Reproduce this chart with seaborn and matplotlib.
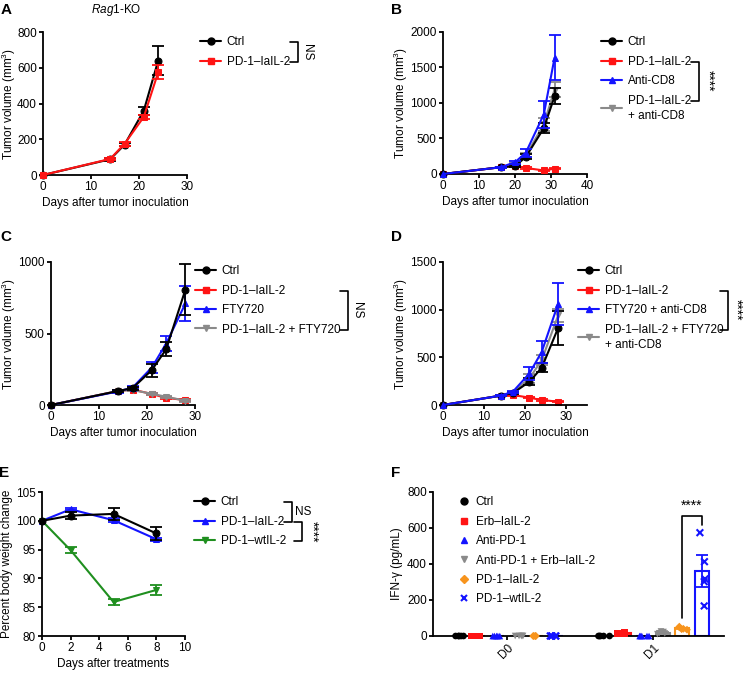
import numpy as np
import pandas as pd
import matplotlib
matplotlib.use("Agg")
import matplotlib.pyplot as plt
import seaborn as sns
from matplotlib.lines import Line2D
from matplotlib.transforms import IdentityTransform

# ---------------- data ----------------
# Panel A (Rag1-KO)
a_days = [0, 14, 17, 21, 24]
a_ctrl = [0, 88, 170, 360, 640]
a_ctrl_err = [0, 8, 10, 22, 80]
a_pd1 = [0, 90, 175, 325, 575]
a_pd1_err = [0, 6, 10, 12, 40]

# Panel B
b_days = [0, 16, 20, 23, 28, 31]
b_ctrl = [0, 95, 110, 240, 645, 1095]
b_ctrl_err = [0, 10, 15, 35, 70, 110]
b_pd1 = [0, 95, 115, 85, 50, 75]
b_pd1_err = [0, 8, 10, 8, 8, 10]
b_cd8 = [0, 95, 165, 300, 840, 1640]
b_cd8_err = [0, 10, 20, 55, 190, 320]
b_combo = [0, 95, 130, 260, 700, 1190]
b_combo_err = [0, 10, 20, 40, 90, 110]

# Panel C
c_days = [0, 14, 17, 21, 24, 28]
c_ctrl = [0, 98, 118, 244, 390, 807]
c_ctrl_err = [0, 8, 10, 45, 50, 180]
c_pd1 = [0, 98, 108, 77, 49, 35]
c_pd1_err = [0, 8, 8, 8, 8, 8]
c_fty = [0, 95, 122, 262, 430, 710]
c_fty_err = [0, 8, 10, 40, 50, 125]
c_combo = [0, 98, 105, 78, 58, 30]
c_combo_err = [0, 6, 6, 8, 8, 6]

# Panel D
d_days = [0, 14, 17, 21, 24, 28]
d_ctrl = [0, 98, 125, 244, 391, 810]
d_ctrl_err = [0, 8, 12, 35, 45, 180]
d_pd1 = [0, 98, 105, 77, 52, 35]
d_pd1_err = [0, 8, 8, 6, 6, 5]
d_fty = [0, 98, 140, 331, 558, 1064]
d_fty_err = [0, 8, 12, 70, 115, 220]
d_combo = [0, 98, 130, 279, 471, 942]
d_combo_err = [0, 8, 10, 45, 55, 70]

# Panel E
e_days = [0, 2, 5, 8]
e_ctrl = [100, 100.9, 101.2, 97.8]
e_ctrl_err = [0, 0.6, 1.0, 1.2]
e_pd1 = [100, 102.0, 100.1, 96.8]
e_pd1_err = [0, 0.2, 0.3, 0.3]
e_wt = [100, 94.9, 85.9, 88.0]
e_wt_err = [0, 0.5, 0.5, 0.8]

# Panel F
f_groups = ["Ctrl", "Erb–IaIL-2", "Anti-PD-1", "Anti-PD-1 + Erb–IaIL-2",
            "PD-1–IaIL-2", "PD-1–wtIL-2"]
f_days = ["D0", "D1"]
f_bar_d0 = [0, 0, 0, 0, 0, 0]
f_bar_d1 = [0, 15, 0, 18, 42, 362]
f_sem_d1 = [0, 2, 0, 5, 4, 88]
f_pts_d0 = {
    "Ctrl": [0, 0, 0, 0, 0],
    "Erb–IaIL-2": [0, 0, 0, 0, 0],
    "Anti-PD-1": [0, 0, 0, 0, 0],
    "Anti-PD-1 + Erb–IaIL-2": [0, 0, 0, 0, 0],
    "PD-1–IaIL-2": [0, 0, 0, 0, 0],
    "PD-1–wtIL-2": [0, 0, 0, 0, 0],
}
f_pts_d1 = {
    "Ctrl": [0, 0, 0, 0, 0],
    "Erb–IaIL-2": [12, 15, 18, 14, 16],
    "Anti-PD-1": [0, 0, 0, 0, 0],
    "Anti-PD-1 + Erb–IaIL-2": [10, 14, 22, 25, 15],
    "PD-1–IaIL-2": [35, 40, 48, 52, 38],
    "PD-1–wtIL-2": [574, 413, 317, 302, 167],
}

# ---------------- style ----------------
sns.set_theme(style="ticks")
plt.rcParams["font.family"] = ["Liberation Sans", "DejaVu Sans"]
plt.rcParams.update({
    "mathtext.fontset": "custom",
    "mathtext.rm": "Liberation Sans",
    "mathtext.it": "Liberation Sans:italic",
    "axes.linewidth": 1.3,
    "xtick.major.width": 1.3, "ytick.major.width": 1.3,
    "xtick.major.size": 3, "ytick.major.size": 3,
    "xtick.labelsize": 8.5, "ytick.labelsize": 8.5, "axes.labelsize": 8.5,
    "xtick.color": "black", "ytick.color": "black",
    "axes.edgecolor": "black", "text.color": "black", "axes.labelcolor": "black",
    "xtick.major.pad": 1.5, "ytick.major.pad": 1.5,
})

BLACK = "#000000"
RED = "#ff1414"
BLUE = "#1414ff"
GREY = "#8a8a8a"
GREEN = "#1f8f1f"
ORANGE = "#f7941d"

W, H = 748, 674
fig = plt.figure(figsize=(W / 100, H / 100), dpi=100)


def add_ax(l, t, r, b, ylab_x):
    ax = fig.add_axes([l / W, 1 - b / H, (r - l) / W, (b - t) / H])
    sns.despine(ax=ax)
    ax._ylab_pos = (ylab_x / W, 1 - ((t + b) / 2) / H)
    return ax


def place_ylabel(ax, text):
    ax.set_ylabel(text, va="center")
    ax.yaxis.set_label_coords(ax._ylab_pos[0], ax._ylab_pos[1], transform=fig.transFigure)


def series(ax, x, y, e, color, marker, label, ms=5, z=2):
    sns.lineplot(x=x, y=y, color=color, marker=marker, markersize=ms,
                 markeredgecolor=color, markerfacecolor=color, linewidth=1.5,
                 ax=ax, label=label, zorder=z, clip_on=False)
    xe = [xi for xi, ei in zip(x, e) if ei > 0]
    ye = [yi for yi, ei in zip(y, e) if ei > 0]
    ee = [ei for ei in e if ei > 0]
    ax.errorbar(xe, ye, yerr=ee, fmt="none", ecolor=color, elinewidth=1.3,
                capsize=4.5, capthick=1.3, zorder=z, clip_on=False)


def handle(color, marker, ms=5, line=True):
    return Line2D([], [], color=color, marker=marker, markersize=ms,
                  markeredgecolor=color, markerfacecolor=color,
                  lw=1.5 if line else 0, ls="-" if line else "none",
                  markeredgewidth=1.5 if marker == "x" else 1)


def legend(ax, handles, labels, x_px, y_center_px, **kw):
    opts = dict(loc="upper left", bbox_to_anchor=(x_px / W, 1 - (y_center_px - 6.8) / H),
                bbox_transform=fig.transFigure, frameon=False, borderpad=0,
                borderaxespad=0, handlelength=1.8, handletextpad=0.45,
                labelspacing=0.63, fontsize=8.5)
    opts.update(kw)
    leg = ax.legend(handles, labels, **opts)
    for t in leg.get_texts():
        t.set_linespacing(1.35)
    return leg


ylab = "Tumor volume (mm$^3$)"
xlab = "Days after tumor inoculation"

# ---------------- Panel A ----------------
axA = add_ax(43, 32, 187, 175, 9)
series(axA, a_days, a_ctrl, a_ctrl_err, BLACK, "o", "Ctrl", z=2)
series(axA, a_days, a_pd1, a_pd1_err, RED, "s", "PD-1–IaIL-2", z=3)
axA.set_xlim(0, 30); axA.set_ylim(0, 800)
axA.set_xticks([0, 10, 20, 30]); axA.set_yticks([0, 200, 400, 600, 800])
axA.set_xlabel(xlab, labelpad=3); place_ylabel(axA, ylab)
legA = legend(axA, [handle(BLACK, "o"), handle(RED, "s")], ["Ctrl", "PD-1–IaIL-2"], 200, 43)

# ---------------- Panel B ----------------
axB = add_ax(443, 32, 587, 174, 401)
series(axB, b_days, b_combo, b_combo_err, GREY, "v", "combo", z=2)
series(axB, b_days, b_pd1, b_pd1_err, RED, "s", "pd1", z=3)
series(axB, b_days, b_ctrl, b_ctrl_err, BLACK, "o", "ctrl", z=4)
series(axB, b_days, b_cd8, b_cd8_err, BLUE, "^", "cd8", z=5)
axB.set_xlim(0, 40); axB.set_ylim(0, 2000)
axB.set_xticks([0, 10, 20, 30, 40]); axB.set_yticks([0, 500, 1000, 1500, 2000])
axB.set_xlabel(xlab, labelpad=3); place_ylabel(axB, ylab)
legB = legend(axB, [handle(BLACK, "o"), handle(RED, "s"), handle(BLUE, "^"), handle(GREY, "v")],
              ["Ctrl", "PD-1–IaIL-2", "Anti-CD8", "PD-1–IaIL-2\n+ anti-CD8"], 601, 43)

# ---------------- Panel C ----------------
axC = add_ax(51, 262, 195, 405, 9)
series(axC, c_days, c_pd1, c_pd1_err, RED, "s", "pd1", z=2)
series(axC, c_days, c_combo, c_combo_err, GREY, "v", "combo", z=3)
series(axC, c_days, c_fty, c_fty_err, BLUE, "^", "fty", z=4)
series(axC, c_days, c_ctrl, c_ctrl_err, BLACK, "o", "ctrl", z=5)
axC.set_xlim(0, 30); axC.set_ylim(0, 1000)
axC.set_xticks([0, 10, 20, 30]); axC.set_yticks([0, 500, 1000])
axC.set_xlabel(xlab, labelpad=3); place_ylabel(axC, ylab)
legC = legend(axC, [handle(BLACK, "o"), handle(RED, "s"), handle(BLUE, "^"), handle(GREY, "v")],
              ["Ctrl", "PD-1–IaIL-2", "FTY720", "PD-1–IaIL-2 + FTY720"], 195, 272)

# ---------------- Panel D ----------------
axD = add_ax(443, 262, 587, 405, 401)
series(axD, d_days, d_pd1, d_pd1_err, RED, "s", "pd1", z=2)
series(axD, d_days, d_combo, d_combo_err, GREY, "v", "combo", z=3)
series(axD, d_days, d_ctrl, d_ctrl_err, BLACK, "o", "ctrl", z=4)
series(axD, d_days, d_fty, d_fty_err, BLUE, "^", "fty", z=5)
axD.set_xlim(0, 35); axD.set_ylim(0, 1500)
axD.set_xticks([0, 10, 20, 30]); axD.set_yticks([0, 500, 1000, 1500])
axD.set_xlabel(xlab, labelpad=3); place_ylabel(axD, ylab)
legD = legend(axD, [handle(BLACK, "o"), handle(RED, "s"), handle(BLUE, "^"), handle(GREY, "v")],
              ["Ctrl", "PD-1–IaIL-2", "FTY720 + anti-CD8", "PD-1–IaIL-2 + FTY720\n+ anti-CD8"],
              578, 272)

# ---------------- Panel E ----------------
axE = add_ax(42, 492, 185, 636, 7)
series(axE, e_days, e_ctrl, e_ctrl_err, BLACK, "o", "ctrl", z=3)
series(axE, e_days, e_pd1, e_pd1_err, BLUE, "^", "pd1", z=2)
series(axE, e_days, e_wt, e_wt_err, GREEN, "v", "wt", z=2)
axE.set_xlim(0, 10); axE.set_ylim(80, 105)
axE.set_xticks([0, 2, 4, 6, 8, 10]); axE.set_yticks([80, 85, 90, 95, 100, 105])
axE.set_xlabel("Days after treatments", labelpad=3)
place_ylabel(axE, "Percent body weight change")
legE = legend(axE, [handle(BLACK, "o"), handle(BLUE, "^"), handle(GREEN, "v")],
              ["Ctrl", "PD-1–IaIL-2", "PD-1–wtIL-2"], 194, 503)

# ---------------- Panel F ----------------
axF = add_ax(433, 492, 724, 636, 397)
f_colors = [BLACK, RED, BLUE, GREY, ORANGE, BLUE]
f_markers = ["o", "s", "^", "v", "D", "x"]
pal = dict(zip(f_groups, f_colors))
bars = pd.DataFrame({
    "day": ["D0"] * 6 + ["D1"] * 6,
    "group": f_groups * 2,
    "value": f_bar_d0 + f_bar_d1,
})
sns.barplot(data=bars, x="day", y="value", hue="group", order=f_days, hue_order=f_groups,
            palette=pal, fill=False, width=0.8, gap=0.3, linewidth=1.5, errorbar=None,
            legend=False, ax=axF)
slot = 0.8 / len(f_groups)
for hi, (m, s) in enumerate(zip(f_bar_d1, f_sem_d1)):
    if s > 0:
        xc = 1 + (hi - (len(f_groups) - 1) / 2) * slot
        axF.errorbar([xc], [m], yerr=[s], fmt="none", ecolor=f_colors[hi],
                     elinewidth=1.3, capsize=4.5, capthick=1.3, zorder=4)
np.random.seed(3)
rows = []
for day, d in zip(f_days, [f_pts_d0, f_pts_d1]):
    for g in f_groups:
        for v in d[g]:
            rows.append((day, g, v))
pts = pd.DataFrame(rows, columns=["day", "group", "value"])
for g, c, mk in zip(f_groups, f_colors, f_markers):
    sub = pts[pts["group"] == g]
    kw = dict(linewidth=1.5, edgecolor=c) if mk == "x" else dict(linewidth=0)
    sns.stripplot(data=sub, x="day", y="value", hue="group", order=f_days,
                  hue_order=f_groups, palette=pal, dodge=True, jitter=0.27,
                  marker=mk, size=4.8 if mk != "D" else 4.0, legend=False,
                  ax=axF, zorder=5, clip_on=False, **kw)
axF.set_xlim(-0.507, 1.486); axF.set_ylim(0, 800)
axF.set_yticks([0, 200, 400, 600, 800])
axF.set_xlabel(""); place_ylabel(axF, "IFN-γ (pg/mL)")
axF.set_xticks([0, 1]); axF.set_xticklabels(f_days, rotation=45, ha="right",
                                            rotation_mode="anchor")
x_or = 1 + (4 - 2.5) * slot
x_wt = 1 + (5 - 2.5) * slot
axF.plot([x_or, x_or, x_wt, x_wt], [100, 668, 668, 618], color="black", lw=1.2)
axF.text((x_or + x_wt) / 2, 722, "****", ha="center", va="center", fontsize=10)
legF = legend(axF, [handle(c, m, ms=(5 if m != "D" else 4), line=False) for c, m in zip(f_colors, f_markers)],
              f_groups, 458, 503, handlelength=1.0, handletextpad=0.5)

# ---------------- titles / letters ----------------
for lab, x, y in [("A", 6, 10), ("B", 397, 10), ("C", 6, 237), ("D", 397, 237),
                  ("E", 4, 473), ("F", 396, 473)]:
    fig.text(x / W, 1 - y / H, lab, fontsize=11, fontweight="bold", ha="center", va="center")
fig.text(116 / W, 1 - 10 / H, r"$\it{Rag1}$-KO", fontsize=8.5, ha="center", va="center")

# ---------------- legend brackets ----------------
fig.canvas.draw()
R = fig.canvas.get_renderer()


def entry_y(leg, i):
    t = leg.get_texts()[i]
    bb = t.get_window_extent(R)
    if "\n" in t.get_text():
        single = leg.get_texts()[0].get_window_extent(R).height
        return bb.y1 - single / 2
    return (bb.y0 + bb.y1) / 2


def bracket(leg, i0, i1, label, rotation=-90, pad=8, extra=0, arm=8, ldx=9,
            label_ha="center", fs=8.5):
    texts = leg.get_texts()
    x = max(texts[i].get_window_extent(R).x1 for i in range(i0, i1 + 1)) + pad + extra
    y0 = entry_y(leg, i0)
    y1 = entry_y(leg, i1)
    ln = Line2D([x - arm, x, x, x - arm], [y0, y0, y1, y1], color="black", lw=1.2,
                transform=IdentityTransform())
    fig.add_artist(ln)
    fig.text((x + ldx) / W, ((y0 + y1) / 2) / H, label, rotation=rotation,
             ha=label_ha, va="center", fontsize=fs)
    return x


bracket(legA, 0, 1, "NS", ldx=9)
bracket(legB, 1, 3, "****", ldx=9, fs=10)
bracket(legC, 1, 3, "NS", ldx=9)
bracket(legD, 1, 3, "****", ldx=8, pad=5, fs=10)
bracket(legE, 0, 1, "NS", rotation=0, ldx=3, label_ha="left")
bracket(legE, 1, 2, "****", extra=8, ldx=10, fs=10)

fig.savefig("out.png", dpi=100)
